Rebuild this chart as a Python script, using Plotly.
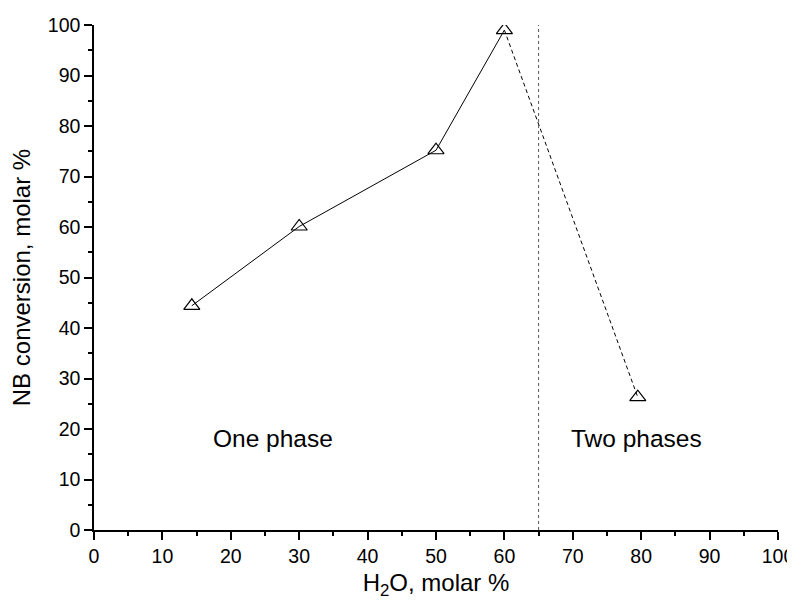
import plotly.graph_objects as go

water = [14.3, 30, 50, 60, 79.5]
conversion = [44.4, 60.1, 75.2, 99.0, 26.3]
boundary_x = 65
x_ticks = list(range(0, 101, 10))
y_ticks = list(range(0, 101, 10))

fig = go.Figure()
fig.add_trace(go.Scatter(x=water[:4], y=conversion[:4], mode="lines",
                         line=dict(color="black", width=1), showlegend=False))
fig.add_trace(go.Scatter(x=water[3:], y=conversion[3:], mode="lines",
                         line=dict(color="black", width=1, dash="4px,3px"), showlegend=False))
fig.add_trace(go.Scatter(x=[boundary_x, boundary_x], y=[0, 100], mode="lines",
                         line=dict(color="#555555", width=1, dash="dot"), showlegend=False))
fig.add_trace(go.Scatter(x=water, y=conversion, mode="markers",
                         marker=dict(symbol="triangle-up-open", size=14, color="black",
                                     line=dict(width=1.2, color="black")),
                         showlegend=False))

fig.add_annotation(x=26.2, y=18.1, text="One phase", showarrow=False,
                   font=dict(size=24.5, color="black"))
fig.add_annotation(x=79.3, y=18.1, text="Two phases", showarrow=False,
                   font=dict(size=24.5, color="black"))

axis_common = dict(showgrid=False, zeroline=False, showline=True, linecolor="black",
                   linewidth=1.5, ticks="outside", ticklen=8, tickwidth=1.5,
                   tickcolor="black", tickfont=dict(size=19.5, color="black"),
                   automargin=False,
                   minor=dict(ticks="outside", ticklen=4, tickwidth=1.5,
                              tickcolor="black", dtick=5))
fig.update_xaxes(range=[0, 100], tickvals=x_ticks,
                 title=dict(text="H<sub>2</sub>O, molar %", font=dict(size=24, color="black"),
                            standoff=16), **axis_common)
fig.update_yaxes(range=[0, 100], tickvals=y_ticks,
                 title=dict(text="NB conversion, molar %", font=dict(size=24, color="black"),
                            standoff=14), **axis_common)

fig.update_layout(width=787, height=592, plot_bgcolor="white", paper_bgcolor="white",
                  margin=dict(l=86, r=17, t=17, b=70),
                  font=dict(family="Liberation Sans, Arial, sans-serif", color="black"))

fig.write_html("out.html")
